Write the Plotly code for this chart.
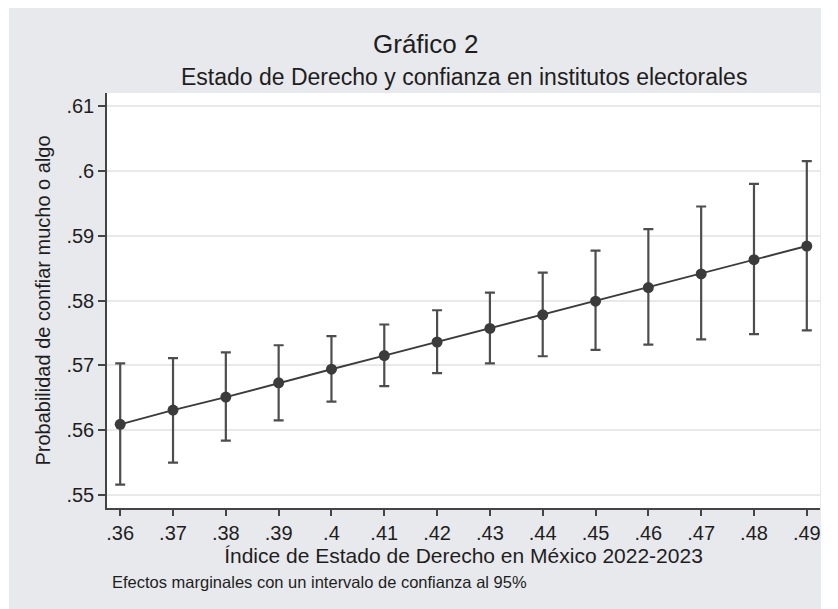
import plotly.graph_objects as go

x_vals = [0.36, 0.37, 0.38, 0.39, 0.40, 0.41, 0.42, 0.43, 0.44, 0.45, 0.46, 0.47, 0.48, 0.49]
margins = [0.5609, 0.5631, 0.5651, 0.5673, 0.5694, 0.5715, 0.5736, 0.5757, 0.5778, 0.5799, 0.5820, 0.5841, 0.5863, 0.5884]
ci_upper = [0.5703, 0.5711, 0.5720, 0.5731, 0.5745, 0.5763, 0.5785, 0.5812, 0.5843, 0.5877, 0.5910, 0.5945, 0.5980, 0.6015]
ci_lower = [0.5516, 0.5550, 0.5584, 0.5615, 0.5644, 0.5668, 0.5688, 0.5703, 0.5714, 0.5724, 0.5732, 0.5740, 0.5748, 0.5754]

x_ticks = [0.36, 0.37, 0.38, 0.39, 0.40, 0.41, 0.42, 0.43, 0.44, 0.45, 0.46, 0.47, 0.48, 0.49]
x_tick_labels = [".36", ".37", ".38", ".39", ".4", ".41", ".42", ".43", ".44", ".45", ".46", ".47", ".48", ".49"]
y_ticks = [0.55, 0.56, 0.57, 0.58, 0.59, 0.60, 0.61]
y_tick_labels = [".55", ".56", ".57", ".58", ".59", ".6", ".61"]

err_plus = [u - m for u, m in zip(ci_upper, margins)]
err_minus = [m - l for m, l in zip(margins, ci_lower)]

FONT = "Liberation Sans, Arial, Helvetica, sans-serif"
BG = "#e8e9ec"
DARK = "#3b3b3b"
TXT = "#1e1e1e"

fig = go.Figure()
fig.add_trace(go.Scatter(
    x=x_vals, y=margins, mode="lines+markers",
    line=dict(color=DARK, width=1.9),
    marker=dict(color=DARK, size=11),
    error_y=dict(type="data", symmetric=False, array=err_plus, arrayminus=err_minus,
                 color="#4d4d4d", thickness=2.2, width=5),
    showlegend=False,
))

# page has an 8px body offset; figure sized so it fits the 838x609 window
OFF = 8
W, H = 830, 601
L, R, T, B = 99, 18, 85, 101
pw, ph = W - L - R, H - T - B

def px(xp):
    return (xp - OFF - L) / pw

def py(yp):
    return (H - B - (yp - OFF)) / ph

shapes = [
    dict(type="rect", xref="paper", yref="paper", x0=px(-20), x1=px(860), y0=py(-20), y1=py(7),
         fillcolor="white", line_width=0, layer="below"),
    dict(type="rect", xref="paper", yref="paper", x0=px(-20), x1=px(9), y0=py(640), y1=py(-20),
         fillcolor="white", line_width=0, layer="below"),
    dict(type="rect", xref="paper", yref="paper", x0=px(821), x1=px(860), y0=py(640), y1=py(-20),
         fillcolor="white", line_width=0, layer="below"),
]

annotations = [
    dict(text="Gráfico 2", xref="paper", yref="paper", x=px(425.5), y=py(44),
         showarrow=False, font=dict(size=26, color=TXT, family=FONT), xanchor="center", yanchor="middle"),
    dict(text="Estado de Derecho y confianza en institutos electorales", xref="paper", yref="paper",
         x=px(463.5), y=py(77), showarrow=False, font=dict(size=23, color=TXT, family=FONT),
         xanchor="center", yanchor="middle"),
    dict(text="Efectos marginales con un intervalo de confianza al 95%", xref="paper", yref="paper",
         x=px(110), y=py(582), showarrow=False, font=dict(size=16.5, color=TXT, family=FONT),
         xanchor="left", yanchor="middle"),
]

fig.update_layout(
    width=W, height=H,
    margin=dict(l=L, r=R, t=T, b=B),
    paper_bgcolor=BG, plot_bgcolor="white",
    font=dict(family=FONT, color=TXT),
    shapes=shapes, annotations=annotations,
    xaxis=dict(range=[0.3575, 0.4925], tickvals=x_ticks, ticktext=x_tick_labels,
               showgrid=False, zeroline=False, showline=True, linecolor="#444444", linewidth=1.5,
               ticks="outside", ticklen=6, tickwidth=1.5, tickcolor="#444444",
               tickfont=dict(size=20, color=TXT),
               title=dict(text="Índice de Estado de Derecho en México 2022-2023",
                          font=dict(size=21, color=TXT), standoff=1)),
    yaxis=dict(range=[0.548, 0.612], tickvals=y_ticks, ticktext=y_tick_labels,
               showgrid=True, gridcolor="#e9e9e9", gridwidth=1.5, zeroline=False,
               showline=True, linecolor="#444444", linewidth=1.5,
               ticks="outside", ticklen=7, tickwidth=1.5, tickcolor="#444444",
               tickfont=dict(size=20, color=TXT),
               title=dict(text="Probabilidad de confiar mucho o algo",
                          font=dict(size=20, color=TXT), standoff=10)),
)

fig.write_html("out.html")
